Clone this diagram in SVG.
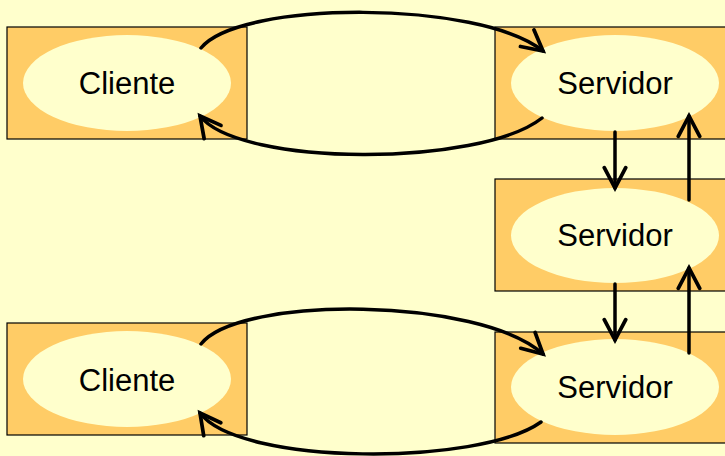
<svg xmlns="http://www.w3.org/2000/svg" width="725" height="456" viewBox="0 0 725 456">
<defs>
<style>
.box{fill:#FFCC66;stroke:#000;stroke-width:1.2}
.ell{fill:#FFFFCC}
.lbl{font-family:"Liberation Sans",Arial,sans-serif;font-size:31px;fill:#000;text-anchor:middle}
.con{fill:none;stroke:#000;stroke-width:3.5;stroke-linecap:round}
</style>
<marker id="ah" markerUnits="userSpaceOnUse" markerWidth="30" markerHeight="30" viewBox="-24 -14 28 28" refX="0" refY="0" orient="auto">
<path d="M-19,-10 L0,0 L-19,10" fill="none" stroke="#000" stroke-width="3.5" stroke-linecap="round" stroke-linejoin="miter"/>
</marker>
</defs>
<rect width="725" height="456" fill="#FFFFCC"/>
<g id="cliente1">
<rect class="box" x="7" y="27" width="240" height="112"/>
<ellipse class="ell" cx="127" cy="83" rx="104" ry="48"/>
<text class="lbl" x="127" y="94">Cliente</text>
</g>
<g id="servidor1">
<rect class="box" x="495" y="27" width="240" height="112"/>
<ellipse class="ell" cx="615" cy="83" rx="104" ry="48"/>
<text class="lbl" x="615" y="94">Servidor</text>
</g>
<g id="servidor2">
<rect class="box" x="495" y="179" width="240" height="112"/>
<ellipse class="ell" cx="615" cy="235.5" rx="104" ry="47.5"/>
<text class="lbl" x="615" y="246">Servidor</text>
</g>
<g id="cliente2">
<rect class="box" x="7" y="323" width="240" height="112"/>
<ellipse class="ell" cx="127" cy="379" rx="104" ry="48"/>
<text class="lbl" x="127" y="391">Cliente</text>
</g>
<g id="servidor3">
<rect class="box" x="495" y="332" width="240" height="111"/>
<ellipse class="ell" cx="615" cy="387" rx="104" ry="48"/>
<text class="lbl" x="615" y="398">Servidor</text>
</g>
<g id="connectors">
<path class="con" d="M201,48 C240,0 480,0 543,51" marker-end="url(#ah)"/>
<path class="con" d="M542,118 C480,167 240,167 200,116" marker-end="url(#ah)"/>
<path class="con" d="M615,132 L615,188" marker-end="url(#ah)"/>
<path class="con" d="M689,200 L689,116" marker-end="url(#ah)"/>
<path class="con" d="M615,284 L615,340" marker-end="url(#ah)"/>
<path class="con" d="M689,353 L689,268" marker-end="url(#ah)"/>
<path class="con" d="M201,344 C240,295 480,297 543,354" marker-end="url(#ah)"/>
<path class="con" d="M541,422 C480,466 240,466 200,413" marker-end="url(#ah)"/>
</g>
</svg>
